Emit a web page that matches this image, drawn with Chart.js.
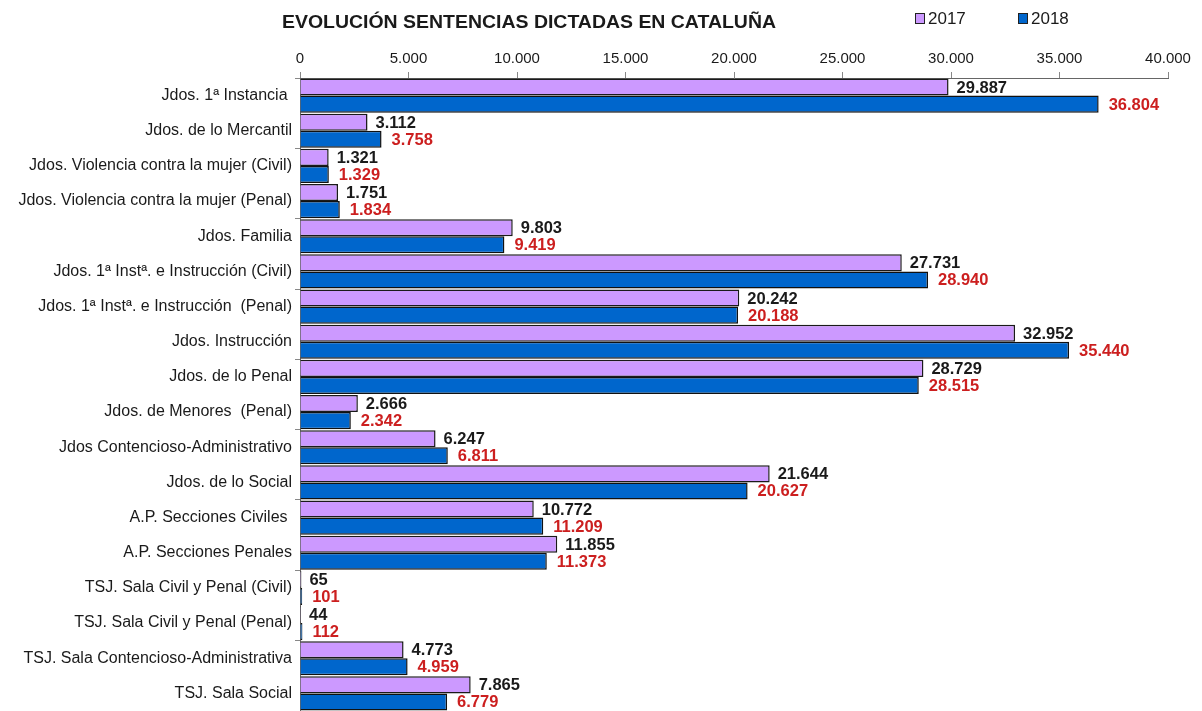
<!DOCTYPE html>
<html>
<head>
<meta charset="utf-8">
<script src="https://cdn.jsdelivr.net/npm/chart.js@4.4.1/dist/chart.umd.min.js"></script>
<style>
html,body{margin:0;padding:0;background:#fff;}
#wrap{width:1202px;height:711px;position:relative;}
</style>
</head>
<body>
<div id="wrap"><canvas id="c" width="1202" height="711"></canvas></div>
<script>
const TITLE = 'EVOLUCIÓN SENTENCIAS DICTADAS EN CATALUÑA';
const categories = [
  'Jdos. 1ª Instancia ',
  'Jdos. de lo Mercantil',
  'Jdos. Violencia contra la mujer (Civil)',
  'Jdos. Violencia contra la mujer (Penal)',
  'Jdos. Familia',
  'Jdos. 1ª Instª. e Instrucción (Civil)',
  'Jdos. 1ª Instª. e Instrucción  (Penal)',
  'Jdos. Instrucción',
  'Jdos. de lo Penal',
  'Jdos. de Menores  (Penal)',
  'Jdos Contencioso-Administrativo',
  'Jdos. de lo Social',
  'A.P. Secciones Civiles ',
  'A.P. Secciones Penales',
  'TSJ. Sala Civil y Penal (Civil)',
  'TSJ. Sala Civil y Penal (Penal)',
  'TSJ. Sala Contencioso-Administrativa',
  'TSJ. Sala Social'
];
const seriesNames = ['2017', '2018'];
const values2017 = [29887, 3112, 1321, 1751, 9803, 27731, 20242, 32952, 28729, 2666, 6247, 21644, 10772, 11855, 65, 44, 4773, 7865];
const values2018 = [36804, 3758, 1329, 1834, 9419, 28940, 20188, 35440, 28515, 2342, 6811, 20627, 11209, 11373, 101, 112, 4959, 6779];
const axisMin = 0, axisMax = 40000, axisStep = 5000;

const fmt = v => String(v).replace(/\B(?=(\d{3})+(?!\d))/g, '.');
const FONT = '"Liberation Sans", Arial, sans-serif';
const labelColors = ['#1a1a1a', '#cc1f1f'];
const labelOffsets = [8, 10];

const valueLabels = {
  id: 'valueLabels',
  afterDatasetsDraw(chart) {
    const ctx = chart.ctx;
    ctx.save();
    ctx.font = 'bold 16.5px ' + FONT;
    ctx.textBaseline = 'middle';
    ctx.textAlign = 'left';
    chart.data.datasets.forEach((ds, i) => {
      const meta = chart.getDatasetMeta(i);
      ctx.fillStyle = labelColors[i];
      meta.data.forEach((bar, j) => {
        ctx.fillText(fmt(ds.data[j]), bar.x + labelOffsets[i], bar.y + 1);
      });
    });
    ctx.restore();
  }
};

const header = {
  id: 'header',
  afterDraw(chart) {
    const ctx = chart.ctx;
    ctx.save();
    ctx.font = 'bold 19px ' + FONT;
    ctx.fillStyle = '#1a1a1a';
    ctx.textBaseline = 'middle';
    const w = ctx.measureText(TITLE).width;
    const target = 494;
    ctx.translate(282, 23);
    ctx.scale(target / w, 1);
    ctx.textAlign = 'left';
    ctx.fillText(TITLE, 0, 0);
    ctx.restore();
    ctx.save();
    ctx.font = '17px ' + FONT;
    ctx.textBaseline = 'middle';
    const items = [{x: 915, c: chart.data.datasets[0].backgroundColor, t: chart.data.datasets[0].label},
                   {x: 1018, c: chart.data.datasets[1].backgroundColor, t: chart.data.datasets[1].label}];
    items.forEach(it => {
      ctx.fillStyle = it.c;
      ctx.fillRect(it.x, 13, 10, 11);
      ctx.strokeStyle = '#222';
      ctx.lineWidth = 1;
      ctx.strokeRect(it.x + 0.5, 13.5, 9, 10);
      ctx.fillStyle = '#1a1a1a';
      ctx.fillText(it.t, it.x + 13, 19);
    });
    ctx.restore();
  }
};

new Chart(document.getElementById('c'), {
  type: 'bar',
  data: {
    labels: categories,
    datasets: [
      {label: seriesNames[0], data: values2017, backgroundColor: '#cc99ff', borderColor: '#1a1a1a', borderWidth: 1.5,
       categoryPercentage: 0.97, barPercentage: 1},
      {label: seriesNames[1], data: values2018, backgroundColor: '#0066cc', borderColor: '#111', borderWidth: 1.5,
       categoryPercentage: 0.97, barPercentage: 1}
    ]
  },
  options: {
    indexAxis: 'y',
    responsive: false,
    devicePixelRatio: 1,
    animation: false,
    layout: {padding: {left: 0, right: 34, top: 0, bottom: 0}},
    plugins: {legend: {display: false}, title: {display: false}, tooltip: {enabled: false}},
    scales: {
      x: {
        position: 'top',
        min: axisMin, max: axisMax,
        ticks: {stepSize: axisStep, callback: v => fmt(v), color: '#1a1a1a', font: {family: FONT, size: 15}, padding: 4, maxRotation: 0},
        grid: {drawOnChartArea: false, tickLength: 6, color: '#888'},
        border: {color: '#666', width: 1},
        afterFit: s => { s.height = 78; }
      },
      y: {
        ticks: {color: '#1a1a1a', font: {family: FONT, size: 16}, padding: 3, autoSkip: false},
        grid: {drawOnChartArea: false, tickLength: 5, offset: true,
               color: c => (c.index % 2 === 0 ? '#888' : 'rgba(0,0,0,0)')},
        border: {color: '#666', width: 1},
        afterFit: s => { s.width = 300; s.paddingTop = 0; s.paddingBottom = 0; }
      }
    }
  },
  plugins: [valueLabels, header]
});
</script>
</body>
</html>
